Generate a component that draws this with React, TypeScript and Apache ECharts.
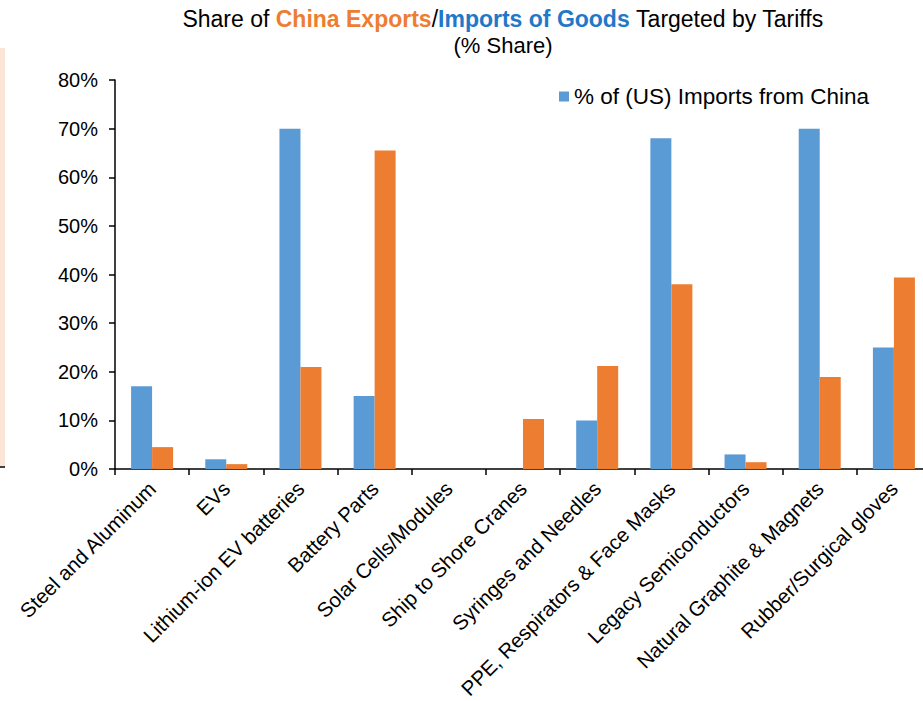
import React, { useEffect, useRef } from "react";
import * as echarts from "echarts";

const categories = [
  "Steel and Aluminum",
  "EVs",
  "Lithium-ion EV batteries",
  "Battery Parts",
  "Solar Cells/Modules",
  "Ship to Shore Cranes",
  "Syringes and Needles",
  "PPE, Respirators & Face Masks",
  "Legacy Semiconductors",
  "Natural Graphite & Magnets",
  "Rubber/Surgical gloves",
];
const usImportsFromChina = [17, 2, 70, 15, null, null, 10, 68, 3, 70, 25];
const chinaExports = [4.5, 1, 21, 65.5, null, 10.3, 21.2, 38, 1.4, 18.9, 39.4];
const yTicks = { min: 0, max: 80, interval: 10 };

export default function App() {
  const ref = useRef<HTMLDivElement>(null);
  useEffect(() => {
    if (!ref.current) return;
    const chart = echarts.init(ref.current, undefined, { renderer: "svg" });
    const font = "'Liberation Sans', Arial, sans-serif";
    chart.setOption({
      animation: false,
      textStyle: { fontFamily: font, color: "#000" },
      graphic: [
        {
          type: "text",
          x: 503,
          y: 19,
          style: {
            text: "{n|Share of }{o|China Exports}{n|/}{b|Imports of Goods}{n| Targeted by Tariffs}",
            align: "center",
            verticalAlign: "middle",
            rich: {
              n: { fontSize: 23, fontFamily: font, fill: "#000" },
              o: { fontSize: 23, fontFamily: font, fill: "#ED7D31", fontWeight: "bold" },
              b: { fontSize: 23, fontFamily: font, fill: "#1F78C8", fontWeight: "bold" },
            },
          },
        },
        {
          type: "text",
          x: 503,
          y: 45,
          style: {
            text: "(% Share)",
            align: "center",
            verticalAlign: "middle",
            fontSize: 22,
            fontFamily: font,
            fill: "#000",
          },
        },
        {
          type: "rect",
          shape: { x: 0, y: 48, width: 5, height: 418 },
          style: { fill: "#FBE5D6" },
        },
        {
          type: "line",
          shape: { x1: 0, y1: 467, x2: 5, y2: 467 },
          style: { stroke: "#000", lineWidth: 1.5 },
        },
      ],
      legend: {
        data: ["% of (US) Imports from China"],
        left: 554,
        top: 80,
        itemWidth: 10,
        itemHeight: 10,
        itemGap: 5,
        icon: "rect",
        textStyle: { fontSize: 22.5, fontFamily: font, color: "#000" },
      },
      grid: {
        left: 115,
        width: 816,
        top: 80,
        bottom: 232,
        containLabel: false,
        outerBoundsMode: "none",
      },
      xAxis: {
        type: "category",
        data: categories,
        axisLine: { lineStyle: { color: "#000", width: 1.5 } },
        axisTick: { show: true, length: 6, lineStyle: { color: "#000", width: 1.5 } },
        axisLabel: {
          rotate: 45,
          interval: 0,
          fontSize: 20.5,
          color: "#000",
          fontFamily: font,
          margin: 16,
        },
      },
      yAxis: {
        type: "value",
        min: yTicks.min,
        max: yTicks.max,
        interval: yTicks.interval,
        axisLine: { show: true, lineStyle: { color: "#000", width: 1.5 } },
        axisTick: { show: true, length: 6, lineStyle: { color: "#000", width: 1.5 } },
        splitLine: { show: false },
        axisLabel: {
          formatter: "{value}%",
          fontSize: 20,
          color: "#000",
          fontFamily: font,
          margin: 17,
        },
      },
      series: [
        {
          name: "% of (US) Imports from China",
          type: "bar",
          data: usImportsFromChina,
          barWidth: 21,
          barGap: "0%",
          itemStyle: { color: "#5B9BD5" },
        },
        {
          name: "% of China Exports",
          type: "bar",
          data: chinaExports,
          barWidth: 21,
          barGap: "0%",
          itemStyle: { color: "#ED7D31" },
        },
      ],
    });
    return () => chart.dispose();
  }, []);
  return (
    <div
      ref={ref}
      style={{ position: "absolute", left: 0, top: 0, width: 923, height: 701, background: "#fff" }}
    />
  );
}
